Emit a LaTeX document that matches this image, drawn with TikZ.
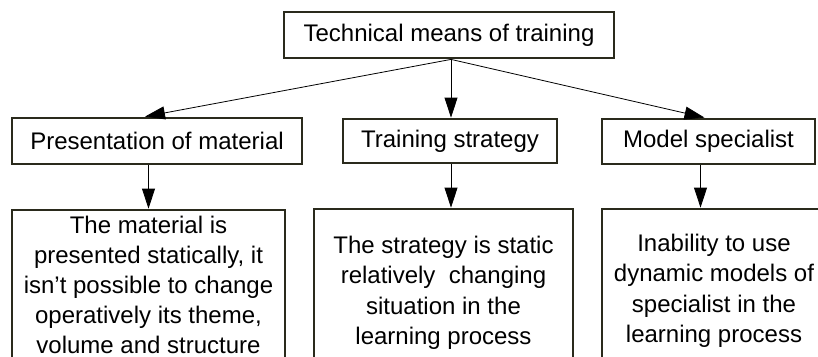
\documentclass[tikz,border=0pt]{standalone}
\usepackage{fontspec}
\setmainfont{Liberation Sans}
\usetikzlibrary{arrows.meta}
\definecolor{bordercol}{RGB}{42,42,28}
\begin{document}
\begin{tikzpicture}[x=1pt,y=-1pt,
  box/.style={draw=bordercol, line width=2.8pt, fill=white, inner sep=2pt, align=center},
  headfont/.style={font=\fontsize{24}{29}\selectfont},
  bodyfont/.style={font=\fontsize{24}{30.5}\selectfont},
  tightfont/.style={font=\fontsize{24}{29.8}\selectfont},
  conn/.style={draw=black, line width=0.8pt, -{Triangle[length=20pt,width=13pt]}}]
\useasboundingbox (0,0) rectangle (818,356);
\clip (0,0) rectangle (818,356);
\node[box, headfont, minimum width=330pt, minimum height=46pt] (top) at (449,35) {Technical means of training};
\node[box, headfont, minimum width=290pt, minimum height=46pt] (pres) at (157,141) {Presentation of material};
\node[box, headfont, minimum width=214pt, minimum height=44pt] (strat) at (450,141) {Training strategy};
\node[box, headfont, minimum width=213pt, minimum height=45pt] (model) at (708.5,141.5) {Model specialist};
\node[box, tightfont, minimum width=273pt, minimum height=150pt] (b1) at (148.5,285) {The material is\\presented statically, it\\isn’t possible to change\\operatively its theme,\\volume and structure};
\node[box, bodyfont, minimum width=259pt, minimum height=168pt] (b2) at (443.5,293) {The strategy is static\\relatively\ \ changing\\situation in the\\learning process};
\node[box, bodyfont, minimum width=224pt, minimum height=164pt] (b3) at (714,291) {Inability to use\\dynamic models of\\specialist in the\\learning process};
\coordinate (src) at ([xshift=2pt]top.south);
\draw[conn] (src) -- ([xshift=-12pt]pres.north);
\draw[conn] (src) -- (src |- strat.north);
\draw[conn] (src) -- ([xshift=-4pt]model.north);
\draw[conn] (b1.north |- pres.south) -- (b1.north);
\draw[conn] ([xshift=1pt]strat.south) -- ([xshift=1pt]strat.south |- b2.north);
\draw[conn] ([xshift=-8pt]model.south) -- ([xshift=-8pt]model.south |- b3.north);
\end{tikzpicture}
\end{document}
